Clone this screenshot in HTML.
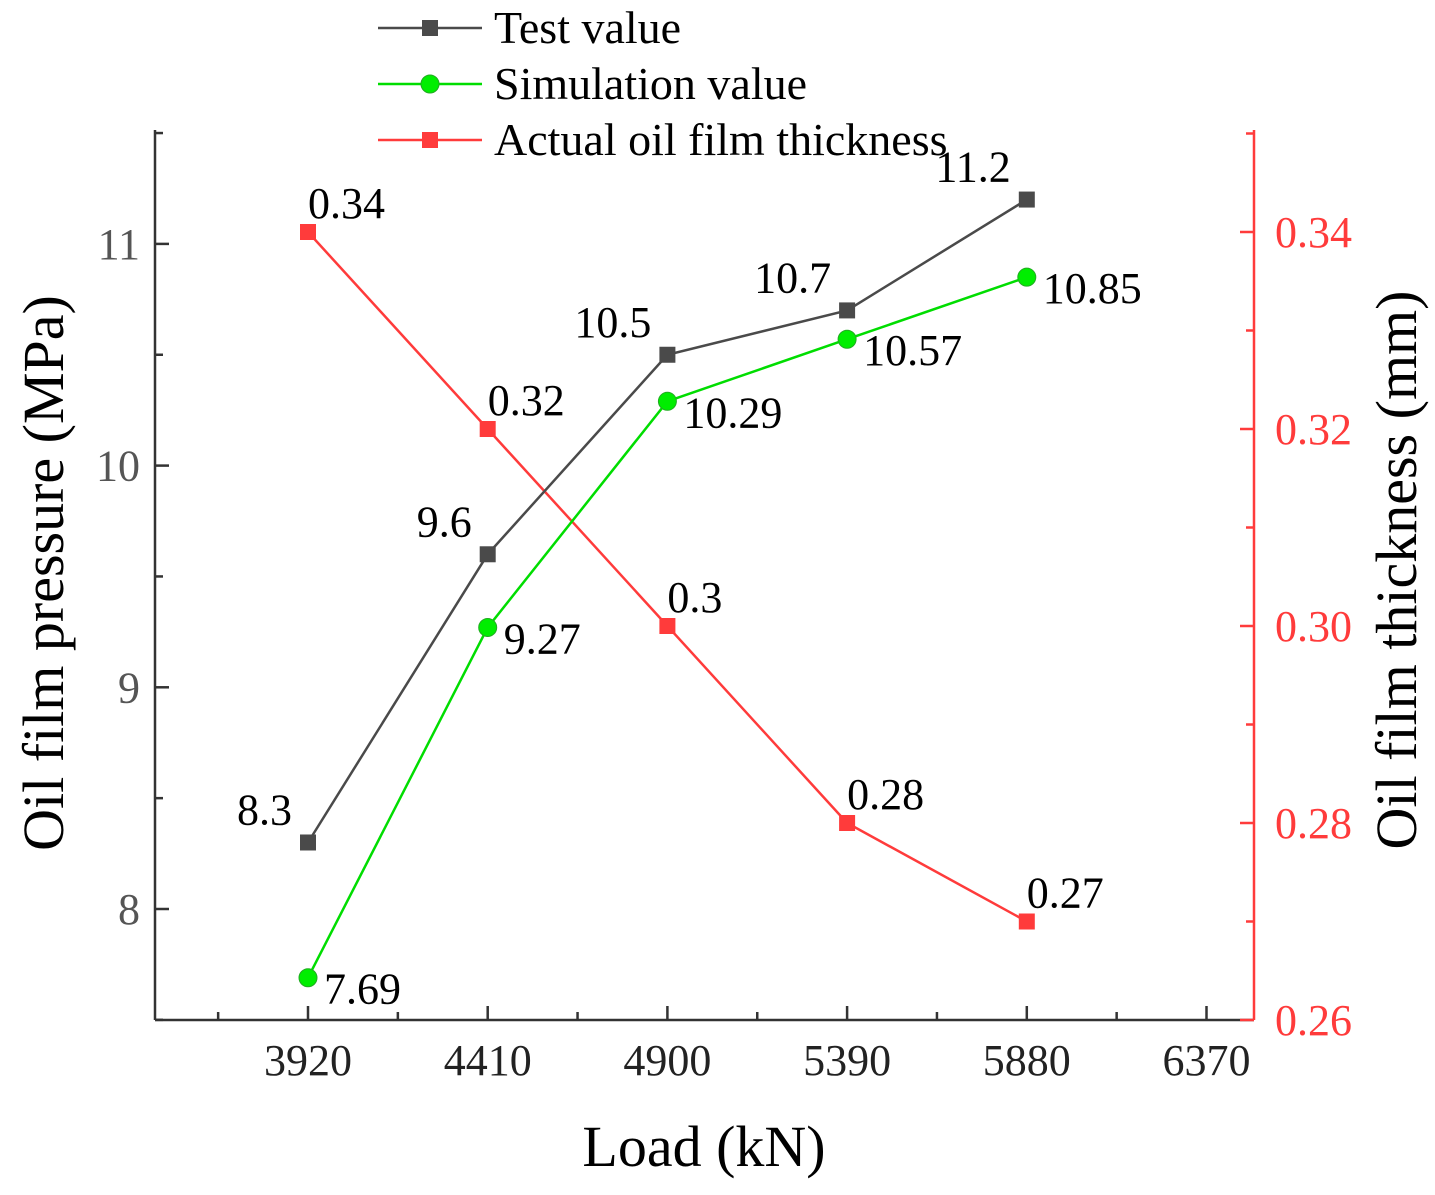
<!DOCTYPE html>
<html><head><meta charset="utf-8"><style>
html,body{margin:0;padding:0;background:#fff}
svg text{font-family:"Liberation Serif",serif}
</style></head><body>
<svg id="chart" width="1435" height="1190" xmlns="http://www.w3.org/2000/svg">
<g id="axes"></g>
<g id="marks"></g>
<g id="legend"></g>
<text x="704" y="1166" font-size="58" text-anchor="middle">Load (kN)</text>
<text transform="translate(63,573) rotate(-90)" font-size="58" text-anchor="middle">Oil film pressure (MPa)</text>
<text transform="translate(1416,570) rotate(-90)" font-size="58" text-anchor="middle">Oil film thickness (mm)</text>
</svg>
<script>
const loads=[3920,4410,4900,5390,5880];
const testVals=[8.3,9.6,10.5,10.7,11.2];
const simVals=[7.69,9.27,10.29,10.57,10.85];
const thickVals=[0.34,0.32,0.30,0.28,0.27];
const thickLabels=["0.34","0.32","0.3","0.28","0.27"];
const xTicks=[3920,4410,4900,5390,5880,6370];
const yLeftTicks=[8,9,10,11];
const yRightTicks=["0.26","0.28","0.30","0.32","0.34"];

const NS="http://www.w3.org/2000/svg";
const X0=155,X1=1254,YT=130,YB=1020;
const xs=v=>308+(v-3920)*(179.7/490);
const yl=v=>909-(v-8)*221.7;
const yr=v=>232+(0.34-v)*9850;
function mk(p,tag,at,txt){const e=document.createElementNS(NS,tag);for(const k in at)e.setAttribute(k,at[k]);if(txt!==undefined)e.textContent=txt;p.appendChild(e);return e;}
const axes=document.getElementById('axes'),marks=document.getElementById('marks'),leg=document.getElementById('legend');
let e;
e=mk(axes,'line',{x1:X0,y1:YB,x2:X1,y2:YB,stroke:'#333','stroke-width':2.5});

e=mk(axes,'line',{x1:X0,y1:YT,x2:X0,y2:YB,stroke:'#333','stroke-width':2.5});

e=mk(axes,'line',{x1:X1,y1:YT,x2:X1,y2:YB,stroke:'#ff3b3b','stroke-width':2.5});

xTicks.forEach(t=>{const x=xs(t);
 mk(axes,'line',{x1:x,y1:YB,x2:x,y2:YB-14,stroke:'#333','stroke-width':2.5});
 mk(axes,'line',{x1:x-89.85,y1:YB,x2:x-89.85,y2:YB-8,stroke:'#333','stroke-width':2.5});
 e=mk(axes,'text',{x:x,y:1075,'font-size':44,'text-anchor':'middle',fill:'#222'},t);
 });
yLeftTicks.forEach(t=>{const y=yl(t);
 mk(axes,'line',{x1:X0,y1:y,x2:X0+14,y2:y,stroke:'#333','stroke-width':2.5});
 mk(axes,'line',{x1:X0,y1:y-110.85,x2:X0+8,y2:y-110.85,stroke:'#333','stroke-width':2.5});
 e=mk(axes,'text',{x:140,y:y+15,'font-size':44,'text-anchor':'end',fill:'#555'},t);
 });
mk(axes,'line',{x1:X0,y1:yl(8)+110.85,x2:X0+8,y2:yl(8)+110.85,stroke:'#333','stroke-width':2.5});
yRightTicks.forEach(t=>{const y=yr(parseFloat(t));
 mk(axes,'line',{x1:X1,y1:y,x2:X1-14,y2:y,stroke:'#ff3b3b','stroke-width':2.5});
 if(parseFloat(t)<0.34)mk(axes,'line',{x1:X1,y1:y-98.5,x2:X1-8,y2:y-98.5,stroke:'#ff3b3b','stroke-width':2.5});
 e=mk(axes,'text',{x:1275,y:y+15,'font-size':44,fill:'#ff3b3b'},t);
 });
mk(axes,'line',{x1:X1,y1:yr(0.34)-98.5,x2:X1-8,y2:yr(0.34)-98.5,stroke:'#ff3b3b','stroke-width':2.5});

function series(vals,yf,color,shape,name){
 const pts=vals.map((v,i)=>xs(loads[i])+','+yf(v)).join(' ');
 e=mk(marks,'polyline',{points:pts,fill:'none',stroke:color,'stroke-width':2.5});
 
 vals.forEach((v,i)=>{const x=xs(loads[i]),y=yf(v);
  if(shape==='sq')e=mk(marks,'rect',{x:x-8,y:y-8,width:16,height:16,fill:color});
  else e=mk(marks,'circle',{cx:x,cy:y,r:9,fill:'#00ee00',stroke:'#22aa22','stroke-width':1});
  });
}
series(thickVals,yr,'#ff3b3b','sq','thickness');
series(testVals,yl,'#4a4a4a','sq','test-value');
series(simVals,yl,'#00dd00','ci','simulation-value');
testVals.forEach((v,i)=>{e=mk(marks,'text',{x:xs(loads[i])-16,y:yl(v)-18,'font-size':44,'text-anchor':'end'},v);
 });
simVals.forEach((v,i)=>{e=mk(marks,'text',{x:xs(loads[i])+16,y:yl(v)+26,'font-size':44},v);
 });
thickVals.forEach((v,i)=>{e=mk(marks,'text',{x:xs(loads[i])+0,y:yr(v)-14,'font-size':44},thickLabels[i]);
 });

[['Test value','#4a4a4a','sq'],['Simulation value','#00dd00','ci'],['Actual oil film thickness','#ff3b3b','sq']].forEach((l,i)=>{
 const y=28+i*56;
 const g=mk(leg,'g',{});
 
 mk(g,'line',{x1:378,y1:y,x2:482,y2:y,stroke:l[1],'stroke-width':2.5});
 if(l[2]==='sq')mk(g,'rect',{x:422,y:y-8,width:16,height:16,fill:l[1]});
 else mk(g,'circle',{cx:430,cy:y,r:9,fill:'#00ee00',stroke:'#22aa22'});
 mk(g,'text',{x:494,y:y+15,'font-size':46},l[0]);
});
</script>
</body></html>
